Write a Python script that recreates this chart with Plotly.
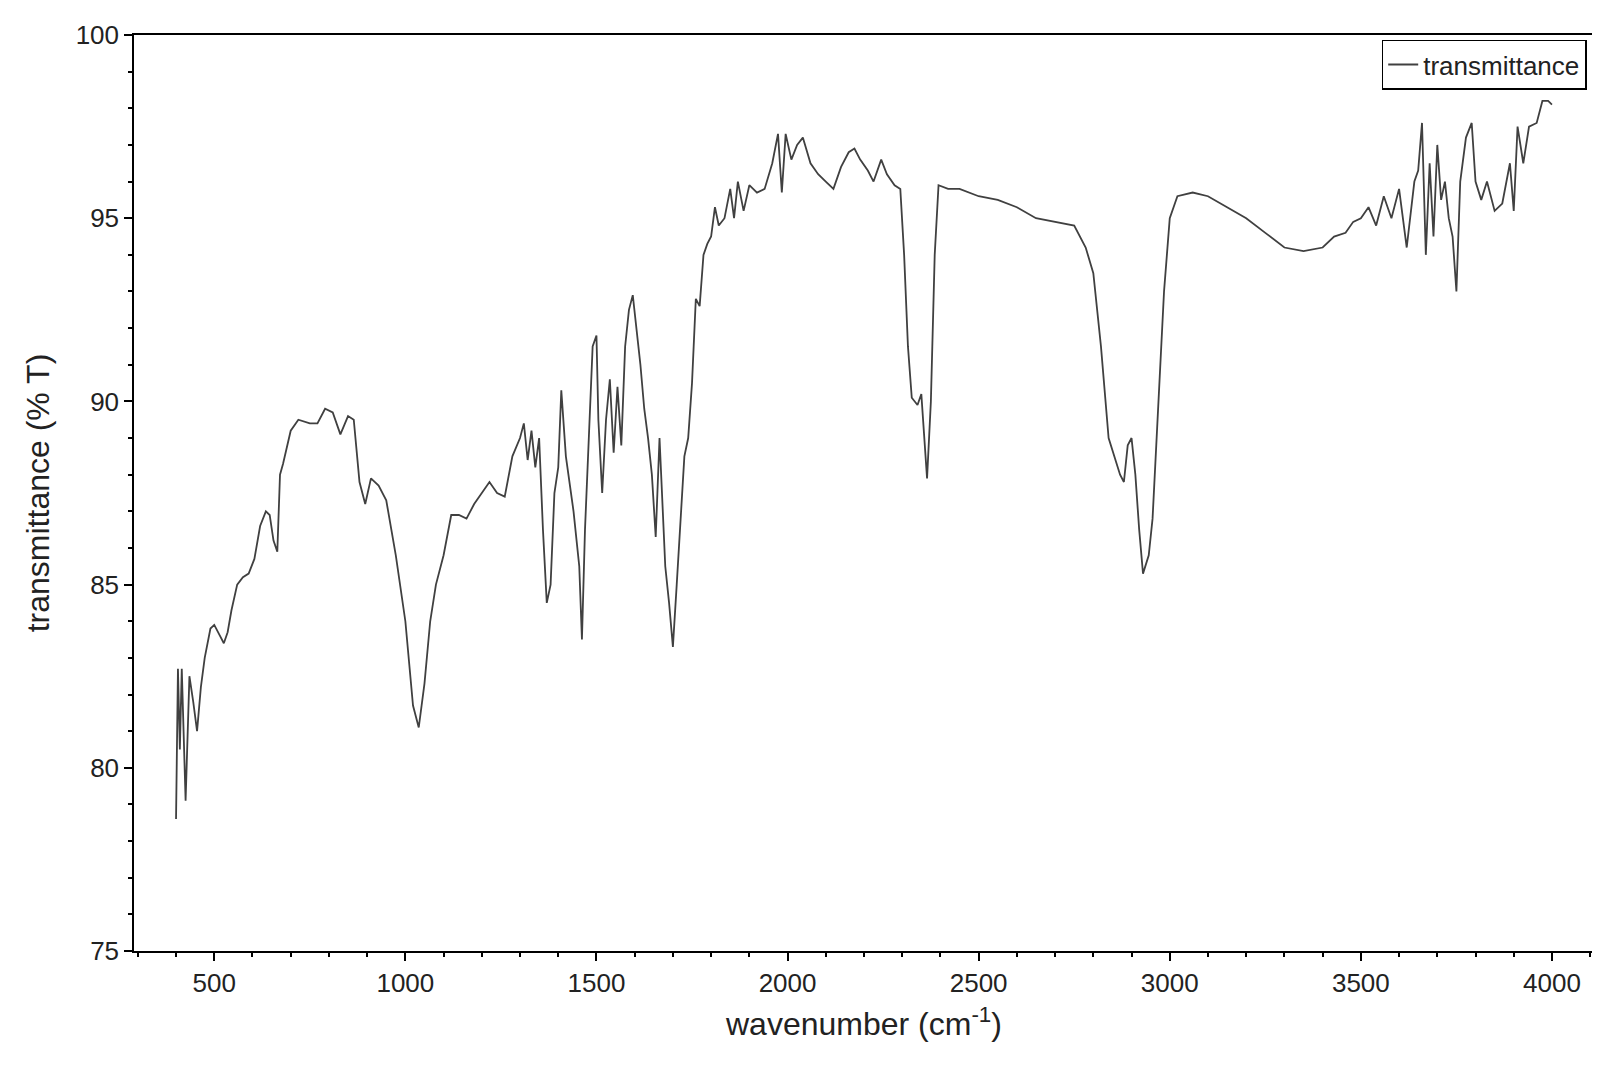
import plotly.graph_objects as go

wavenumber = [400, 405, 410, 415, 425, 435, 445, 455, 465, 475, 490, 500, 515, 525, 535, 545, 560, 575, 590, 605,
              620, 635, 645, 655, 665, 672, 680, 700, 720, 750, 770, 790, 810, 830, 850, 865, 880, 895, 910, 930,
              950, 975, 1000, 1020, 1035, 1050, 1065, 1080, 1100, 1120, 1140, 1160, 1180, 1200, 1220, 1240, 1260,
              1280, 1300, 1310, 1320, 1330, 1340, 1350, 1360, 1370, 1380, 1390, 1400, 1408, 1420, 1440, 1455, 1462,
              1470, 1480, 1490, 1500, 1505, 1515, 1525, 1535, 1545, 1555, 1565, 1575, 1585, 1595, 1605, 1615, 1625,
              1635, 1645, 1655, 1665, 1672, 1680, 1690, 1700, 1710, 1720, 1730, 1740, 1750, 1760, 1770, 1780, 1790,
              1800, 1810, 1820, 1835, 1850, 1860, 1870, 1885, 1900, 1920, 1940, 1960, 1975, 1985, 1995, 2010, 2025,
              2040, 2060, 2080, 2100, 2120, 2140, 2160, 2175, 2190, 2210, 2225, 2245, 2260, 2280, 2295, 2305, 2315,
              2325, 2340, 2350, 2365, 2375, 2385, 2395, 2420, 2450, 2500, 2550, 2600, 2650, 2700, 2750, 2780, 2800,
              2820, 2840, 2870, 2880, 2890, 2900, 2910, 2920, 2930, 2945, 2955, 2970, 2985, 3000, 3020, 3060, 3100,
              3150, 3200, 3250, 3300, 3350, 3400, 3430, 3460, 3480, 3500, 3520, 3540, 3560, 3580, 3600, 3620, 3640,
              3650, 3660, 3670, 3680, 3690, 3700, 3710, 3720, 3730, 3740, 3750, 3760, 3775, 3790, 3800, 3815, 3830,
              3850, 3870, 3890, 3900, 3910, 3925, 3940, 3960, 3975, 3990, 4000]
transmittance = [78.6, 82.7, 80.5, 82.7, 79.1, 82.5, 81.8, 81.0, 82.2, 83.0, 83.8, 83.9, 83.6, 83.4, 83.7, 84.3, 85.0,
                 85.2, 85.3, 85.7, 86.6, 87.0, 86.9, 86.2, 85.9, 88.0, 88.3, 89.2, 89.5, 89.4, 89.4, 89.8, 89.7, 89.1,
                 89.6, 89.5, 87.8, 87.2, 87.9, 87.7, 87.3, 85.8, 84.0, 81.7, 81.1, 82.3, 84.0, 85.0, 85.8, 86.9, 86.9,
                 86.8, 87.2, 87.5, 87.8, 87.5, 87.4, 88.5, 89.0, 89.4, 88.4, 89.2, 88.2, 89.0, 86.5, 84.5, 85.0, 87.5,
                 88.2, 90.3, 88.5, 87.0, 85.5, 83.5, 86.5, 89.0, 91.5, 91.8, 89.5, 87.5, 89.5, 90.6, 88.6, 90.4, 88.8,
                 91.5, 92.5, 92.9, 92.0, 91.0, 89.8, 89.0, 88.0, 86.3, 89.0, 87.5, 85.5, 84.5, 83.3, 85.0, 86.8, 88.5,
                 89.0, 90.5, 92.8, 92.6, 94.0, 94.3, 94.5, 95.3, 94.8, 95.0, 95.8, 95.0, 96.0, 95.2, 95.9, 95.7, 95.8,
                 96.5, 97.3, 95.7, 97.3, 96.6, 97.0, 97.2, 96.5, 96.2, 96.0, 95.8, 96.4, 96.8, 96.9, 96.6, 96.3, 96.0,
                 96.6, 96.2, 95.9, 95.8, 94.0, 91.5, 90.1, 89.9, 90.2, 87.9, 90.0, 94.0, 95.9, 95.8, 95.8, 95.6, 95.5,
                 95.3, 95.0, 94.9, 94.8, 94.2, 93.5, 91.5, 89.0, 88.0, 87.8, 88.8, 89.0, 88.0, 86.5, 85.3, 85.8, 86.8,
                 90.0, 93.0, 95.0, 95.6, 95.7, 95.6, 95.3, 95.0, 94.6, 94.2, 94.1, 94.2, 94.5, 94.6, 94.9, 95.0, 95.3,
                 94.8, 95.6, 95.0, 95.8, 94.2, 96.0, 96.3, 97.6, 94.0, 96.5, 94.5, 97.0, 95.5, 96.0, 95.0, 94.5, 93.0,
                 96.0, 97.2, 97.6, 96.0, 95.5, 96.0, 95.2, 95.4, 96.5, 95.2, 97.5, 96.5, 97.5, 97.6, 98.2, 98.2, 98.1]

fig = go.Figure()
fig.add_trace(go.Scatter(x=wavenumber, y=transmittance, mode='lines', name='transmittance',
                         line=dict(color='#404040', width=1.8)))

axis_common = dict(showline=True, linecolor='black', linewidth=1.5, mirror=True, ticks='outside',
                   ticklen=8, tickwidth=1.5, tickcolor='black', showgrid=False, zeroline=False,
                   minor=dict(ticks='outside', ticklen=4, tickwidth=1.5, tickcolor='black'),
                   tickfont=dict(size=26, color='#222'))

fig.update_xaxes(range=[290, 4110], dtick=500, title=dict(text='wavenumber (cm<sup>-1</sup>)',
                 font=dict(size=32, color='#222'), standoff=16), **axis_common)
fig.update_yaxes(range=[75, 100], dtick=5, title=dict(text='transmittance (% T)',
                 font=dict(size=32, color='#222'), standoff=16), **axis_common)

fig.update_layout(
    width=1600, height=1081,
    plot_bgcolor='white', paper_bgcolor='white',
    font=dict(family='Liberation Sans, Arial, sans-serif'),
    margin=dict(l=126, r=14, t=16, b=138),
    showlegend=True,
    legend=dict(x=0.995, y=0.995, xanchor='right', yanchor='top', bordercolor='black', borderwidth=1.5,
                font=dict(size=26, color='#222'), bgcolor='white'),
)

fig.write_html("out.html")
